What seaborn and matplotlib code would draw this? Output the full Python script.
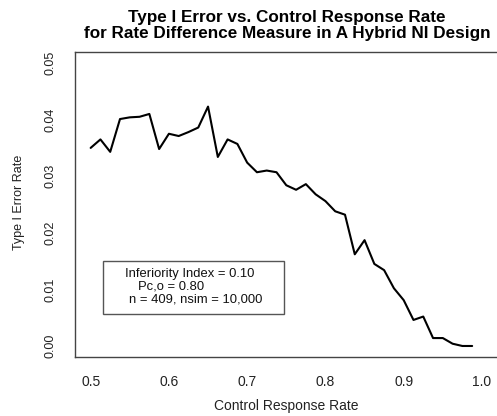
import matplotlib
matplotlib.use("Agg")
import matplotlib.pyplot as plt
import seaborn as sns
import numpy as np
import pandas as pd
from matplotlib.patches import Rectangle

# ---- data ----
control_rate = [0.5000, 0.5125, 0.5250, 0.5375, 0.5500, 0.5625, 0.5750, 0.5875,
                0.6000, 0.6125, 0.6250, 0.6375, 0.6500, 0.6625, 0.6750, 0.6875,
                0.7000, 0.7125, 0.7250, 0.7375, 0.7500, 0.7625, 0.7750, 0.7875,
                0.8000, 0.8125, 0.8250, 0.8375, 0.8500, 0.8625, 0.8750, 0.8875,
                0.9000, 0.9125, 0.9250, 0.9375, 0.9500, 0.9625, 0.9750, 0.9875]
type1_error = [0.0350, 0.0365, 0.0343, 0.0401, 0.0404, 0.0405, 0.0410, 0.0348,
               0.0375, 0.0371, 0.0378, 0.0386, 0.0423, 0.0334, 0.0365, 0.0357,
               0.0324, 0.0307, 0.0310, 0.0307, 0.0284, 0.0276, 0.0286, 0.0268,
               0.0256, 0.0238, 0.0232, 0.0162, 0.0187, 0.0145, 0.0134, 0.0102,
               0.0081, 0.0046, 0.0052, 0.0014, 0.0014, 0.0004, 0.0000, 0.0000]
x_ticks = [0.5, 0.6, 0.7, 0.8, 0.9, 1.0]
x_tick_labels = ["0.5", "0.6", "0.7", "0.8", "0.9", "1.0"]
y_ticks = [0.00, 0.01, 0.02, 0.03, 0.04, 0.05]
y_tick_labels = ["0.00", "0.01", "0.02", "0.03", "0.04", "0.05"]
title_text = "Type I Error vs. Control Response Rate\nfor Rate Difference Measure in A Hybrid NI Design"
x_label = "Control Response Rate"
y_label = "Type I Error Rate"
box_lines = ["Inferiority Index = 0.10", "Pc,o = 0.80", "n = 409, nsim = 10,000"]

df = pd.DataFrame({"rate": control_rate, "err": type1_error})

sns.set_style("white")
plt.rcParams["font.family"] = ["Liberation Sans", "DejaVu Sans"]

fig = plt.figure(figsize=(4.97, 4.16), dpi=100)
W, H = 497, 416
left, right = 75 / W, 497.6 / W
bottom, top = 1 - 357.3 / H, 1 - 51.7 / H
ax = fig.add_axes([left, bottom, right - left, top - bottom])

sns.lineplot(data=df, x="rate", y="err", ax=ax, color="black", linewidth=1.5)

ax.set_xlim(0.48, 1.02)
ax.set_ylim(-0.002, 0.052)
ax.set_xticks(x_ticks)
ax.set_xticklabels(x_tick_labels, fontsize=10)
ax.set_yticks(y_ticks)
ax.set_yticklabels(y_tick_labels, fontsize=9, rotation=90, va="center")
ax.tick_params(axis="both", direction="out", length=6, width=0.9, color="#444444",
               labelcolor="#222222")
ax.tick_params(axis="x", pad=7)
ax.tick_params(axis="y", pad=7)
for s in ax.spines.values():
    s.set_color("#444444")
    s.set_linewidth(1.0)

ax.set_xlabel("")
ax.set_ylabel("")
fig.text((75 + 497.3) / 2 / W, 1 - 406 / H, x_label, ha="center", va="center",
         fontsize=10, color="#222222")
fig.text(18.7 / W, 1 - 202 / H, y_label, ha="center", va="center", rotation=90,
         fontsize=9, color="#222222")
fig.text(287 / W, 1 - 25.5 / H, title_text, ha="center", va="center",
         fontsize=12.3, fontweight="bold", linespacing=1.05, color="black")

# annotation box
ax.add_patch(Rectangle((0.5153, 0.00558), 0.7476 - 0.5153, 0.01505 - 0.00558,
                       fill=False, edgecolor="#555555", linewidth=1.0))
ax.text(0.5439, 0.01272, box_lines[0], ha="left", va="center", fontsize=9.4, color="#111111")
ax.text(0.5609, 0.01043, box_lines[1], ha="left", va="center", fontsize=9.4, color="#111111")
ax.text(0.5494, 0.00818, box_lines[2], ha="left", va="center", fontsize=9.4, color="#111111")

fig.savefig("out.png", dpi=100)
